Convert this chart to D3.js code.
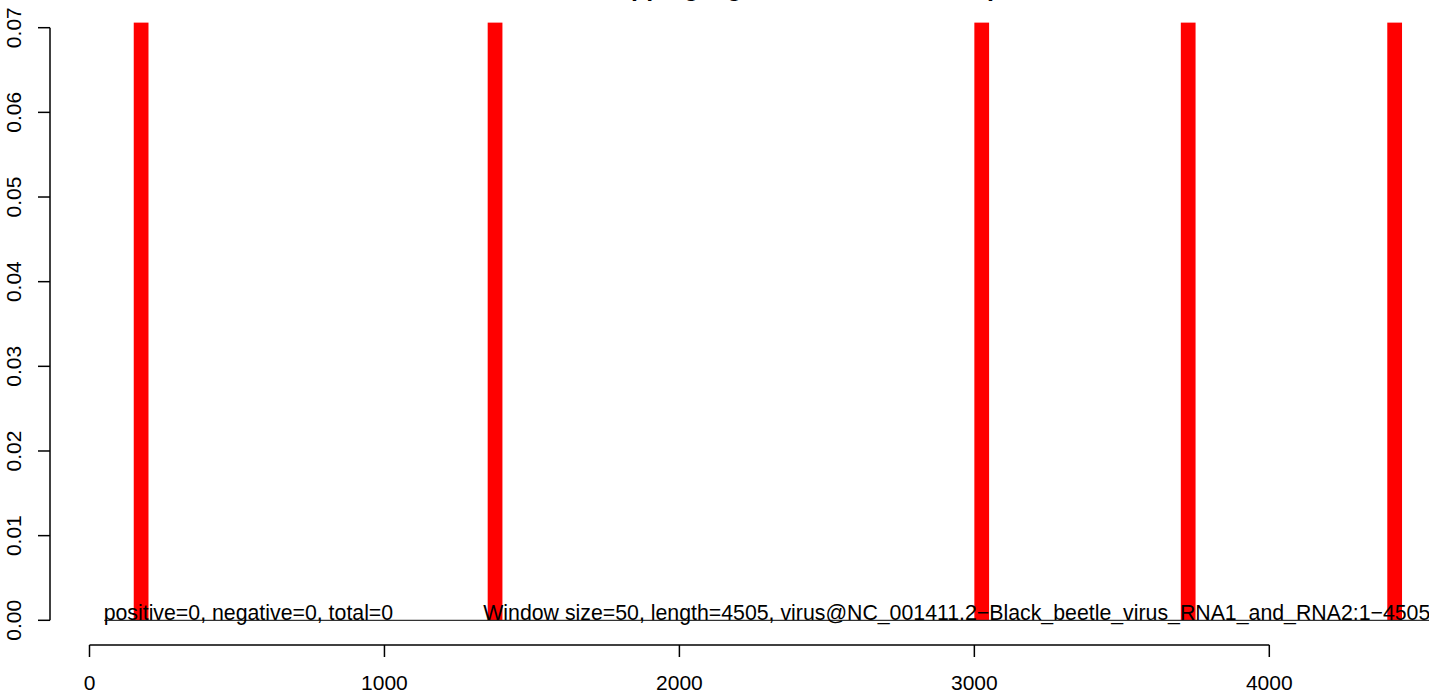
<!DOCTYPE html>
<html>
<head>
<meta charset="utf-8">
<script src="https://cdn.jsdelivr.net/npm/d3@7"></script>
<style>
  html, body { margin: 0; padding: 0; background: #fff; }
  svg { display: block; }
  text { font-family: "Liberation Sans", Arial, Helvetica, sans-serif; }
</style>
</head>
<body>
<svg id="chart" width="1429" height="692"></svg>
<script>
// ---- data ----
const windowSize = 50;
const seqLength = 4505;
const windowStarts = [150, 1350, 3000, 3700, 4400];
const windowValues = [0.0706, 0.0706, 0.0706, 0.0706, 0.0706];
const xTicks = [0, 1000, 2000, 3000, 4000];
const yTicks = [0, 0.01, 0.02, 0.03, 0.04, 0.05, 0.06, 0.07];
const baselineRange = [50, 4550];
const titleText = "Overlapping signature of small RNA pairs";
const leftNote = "positive=0, negative=0, total=0";
const rightNote = "Window size=50, length=4505, virus@NC_001411.2\u2212Black_beetle_virus_RNA1_and_RNA2:1\u22124505";
const leftNoteX = 48;
const rightNoteX = 1335;

// ---- drawing ----
const svg = d3.select("#chart");
const x = d3.scaleLinear().domain([0, 4000]).range([89.5, 1269.3]);
const y = d3.scaleLinear().domain([0, 0.07]).range([620.3, 27.7]);
const fs = 21;
const noteFs = 21.3;

// title (mostly off the top edge, as in the reference)
svg.append("text")
  .attr("x", 800).attr("y", -4)
  .attr("text-anchor", "middle")
  .attr("font-weight", "bold")
  .attr("font-size", 25)
  .text(titleText);

// bars
svg.append("g").selectAll("rect")
  .data(windowStarts.map((s, i) => ({ s, v: windowValues[i] })))
  .join("rect")
  .attr("x", d => x(d.s))
  .attr("width", d => x(d.s + windowSize) - x(d.s))
  .attr("y", d => y(d.v))
  .attr("height", d => y(0) - y(d.v))
  .attr("fill", "#ff0000");

// baseline
svg.append("line")
  .attr("x1", x(baselineRange[0])).attr("x2", x(baselineRange[1]))
  .attr("y1", y(0)).attr("y2", y(0))
  .attr("stroke", "#333").attr("stroke-width", 1.2);

// notes
svg.append("text")
  .attr("x", x(leftNoteX)).attr("y", y(0))
  .attr("font-size", noteFs)
  .attr("fill", "#000")
  .text(leftNote);
svg.append("text")
  .attr("x", x(rightNoteX)).attr("y", y(0))
  .attr("font-size", noteFs)
  .attr("fill", "#000")
  .text(rightNote);

// x axis
const xAxis = svg.append("g").attr("transform", "translate(0,645)");
xAxis.append("line")
  .attr("x1", x(xTicks[0])).attr("x2", x(xTicks[xTicks.length - 1]))
  .attr("y1", 0).attr("y2", 0)
  .attr("stroke", "#000").attr("stroke-width", 1.5);
xAxis.selectAll("line.tick").data(xTicks).join("line")
  .attr("class", "tick")
  .attr("x1", d => x(d)).attr("x2", d => x(d))
  .attr("y1", 0).attr("y2", 12)
  .attr("stroke", "#000").attr("stroke-width", 1.5);
xAxis.selectAll("text").data(xTicks).join("text")
  .attr("x", d => x(d)).attr("y", 44.5)
  .attr("text-anchor", "middle")
  .attr("font-size", fs)
  .text(d => d3.format("d")(d));

// y axis
const yAxis = svg.append("g").attr("transform", "translate(50,0)");
yAxis.append("line")
  .attr("x1", 0).attr("x2", 0)
  .attr("y1", y(yTicks[0])).attr("y2", y(yTicks[yTicks.length - 1]))
  .attr("stroke", "#000").attr("stroke-width", 1.5);
yAxis.selectAll("line.tick").data(yTicks).join("line")
  .attr("class", "tick")
  .attr("x1", 0).attr("x2", -12)
  .attr("y1", d => y(d)).attr("y2", d => y(d))
  .attr("stroke", "#000").attr("stroke-width", 1.5);
yAxis.selectAll("text").data(yTicks).join("text")
  .attr("transform", d => `translate(-29,${y(d)}) rotate(-90)`)
  .attr("text-anchor", "middle")
  .attr("font-size", fs)
  .text(d => d3.format(".2f")(d));
</script>
</body>
</html>
